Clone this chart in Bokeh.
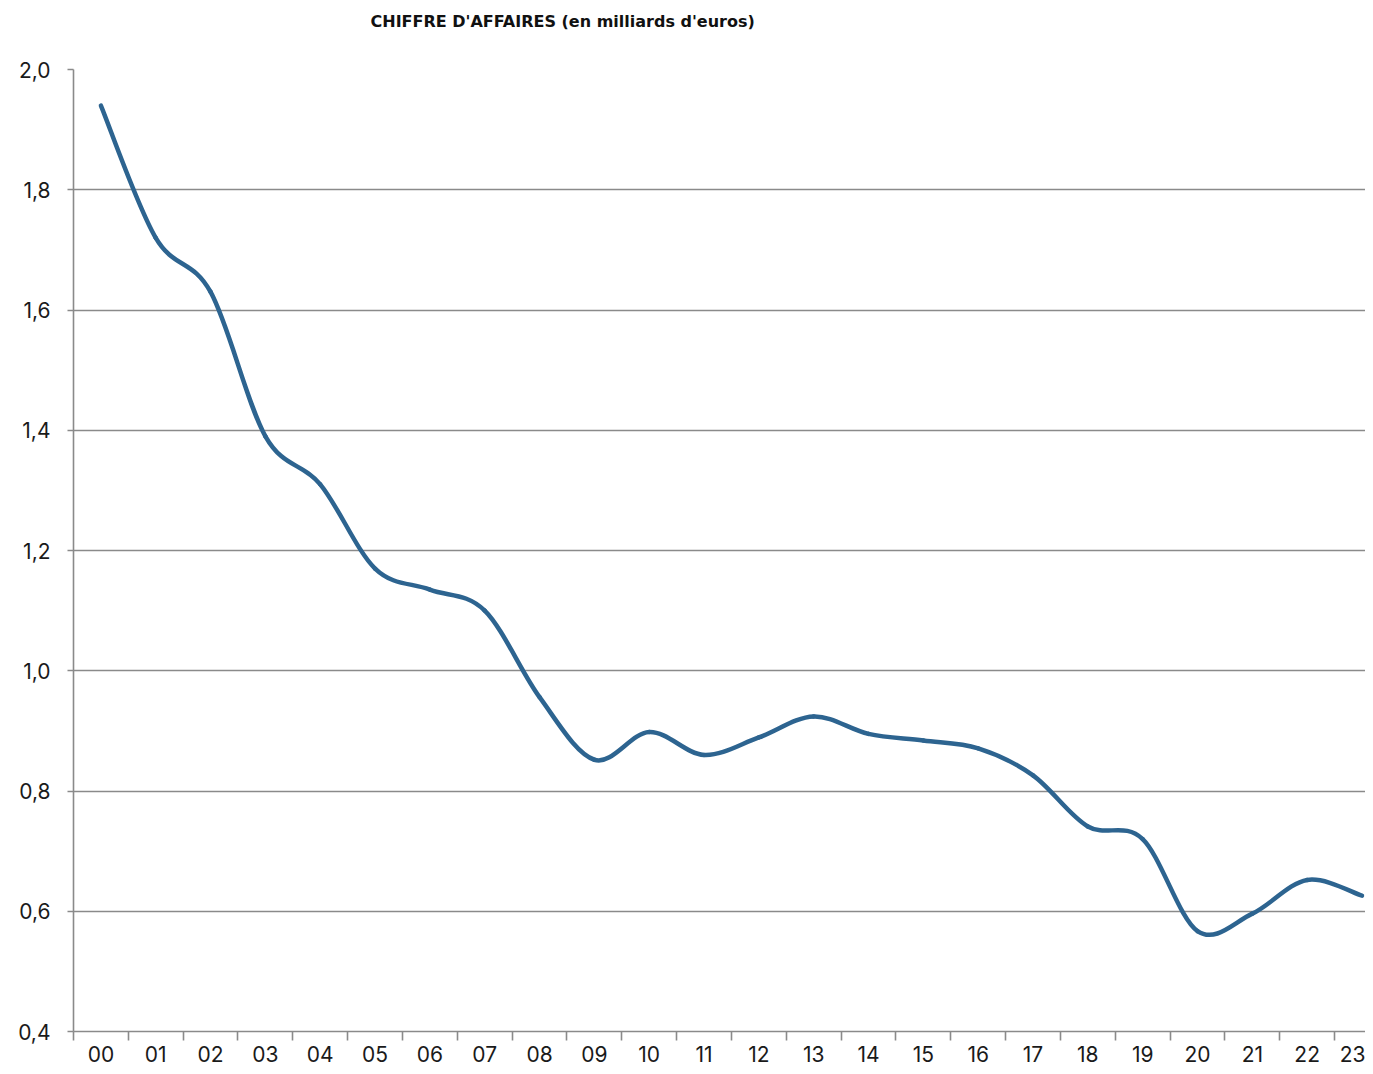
from bokeh.plotting import figure
from bokeh.layouts import column
from bokeh.models import Range1d, FixedTicker, CustomJSTickFormatter
from bokeh.core.properties import value
from bokeh.embed import file_html
from bokeh.resources import INLINE

# ---- data ----
years = ["00", "01", "02", "03", "04", "05", "06", "07", "08", "09", "10", "11",
         "12", "13", "14", "15", "16", "17", "18", "19", "20", "21", "22", "23"]
revenue = [1.94, 1.72, 1.63, 1.39, 1.31, 1.17, 1.135, 1.10, 0.956, 0.852, 0.898, 0.860,
           0.889, 0.924, 0.895, 0.884, 0.871, 0.826, 0.741, 0.720, 0.567, 0.596, 0.652, 0.626]
y_ticks = [0.4, 0.6, 0.8, 1.0, 1.2, 1.4, 1.6, 1.8, 2.0]
title_text = "CHIFFRE D'AFFAIRES (en milliards d'euros)"

FONT = "Inter"
GRID = "#8a8a8a"
LINE = "#2d6490"

n = len(years)
xs = list(range(n))

W = 1365
TITLE_H = 36
H = 1030
LEFT, TOP, BOTTOM = 73, 33, 35

# ---- title strip (its own small svg figure, no axes; frame aligned with chart frame) ----
t = figure(width=W, height=TITLE_H, output_backend="svg", toolbar_location=None,
           x_range=Range1d(LEFT, W), y_range=Range1d(0, TITLE_H),
           x_axis_type=None, y_axis_type=None,
           min_border_left=LEFT, min_border_right=0, min_border_top=0, min_border_bottom=0,
           outline_line_color=None)
t.grid.visible = False
t.text(x=[370], y=[TITLE_H - 21], text=[title_text], text_font=value("DejaVu Sans"),
       text_font_style="bold", text_font_size="16px", text_color="#111111",
       text_align="left", text_baseline="middle")

# ---- main chart ----
p = figure(width=W, height=H, output_backend="svg", toolbar_location=None,
           x_range=Range1d(-0.5, 23.064), y_range=Range1d(0.4, 2.0),
           min_border_left=LEFT, min_border_right=0, min_border_top=TOP,
           min_border_bottom=BOTTOM)
p.outline_line_color = None
p.background_fill_color = "white"
p.border_fill_color = "white"

# grid
p.xgrid.visible = False
p.ygrid.ticker = FixedTicker(ticks=y_ticks)
p.ygrid.grid_line_color = GRID
p.ygrid.grid_line_width = 1.6

# y axis
p.yaxis.ticker = FixedTicker(ticks=y_ticks)
p.yaxis.formatter = CustomJSTickFormatter(code="return tick.toFixed(1).replace('.', ',');")
p.yaxis.axis_line_color = GRID
p.yaxis.axis_line_width = 1.6
p.yaxis.major_tick_line_color = GRID
p.yaxis.major_tick_line_width = 1.6
p.yaxis.major_tick_out = 6
p.yaxis.major_tick_in = 0
p.yaxis.minor_tick_line_color = None
p.yaxis.major_label_text_font = FONT
p.yaxis.major_label_text_font_size = "21px"
p.yaxis.major_label_text_color = "#1a1a1a"
p.yaxis.major_label_standoff = 17

# x axis: labels at category centres, ticks on category boundaries
bounds = [i - 0.5 for i in range(n + 1)]
p.xaxis.ticker = FixedTicker(ticks=xs, minor_ticks=bounds)
p.xaxis.major_label_overrides = {i: years[i] for i in xs}
p.xaxis.axis_line_color = GRID
p.xaxis.axis_line_width = 1.6
p.xaxis.major_tick_line_color = None
p.xaxis.major_tick_out = 0
p.xaxis.major_tick_in = 0
p.xaxis.minor_tick_line_color = GRID
p.xaxis.minor_tick_line_width = 1.6
p.xaxis.minor_tick_out = 9
p.xaxis.minor_tick_in = 0
p.xaxis.major_label_text_font = FONT
p.xaxis.major_label_text_font_size = "21px"
p.xaxis.major_label_text_color = "#1a1a1a"
p.xaxis.major_label_standoff = 5

# smoothed line (cubic Bezier segments through the data points)
x0, y0, x1, y1, cx0, cy0, cx1, cy1 = [], [], [], [], [], [], [], []
for i in range(n - 1):
    ip = max(i - 1, 0)
    inn = min(i + 2, n - 1)
    x0.append(xs[i]); y0.append(revenue[i])
    x1.append(xs[i + 1]); y1.append(revenue[i + 1])
    cx0.append(xs[i] + (xs[i + 1] - xs[ip]) / 6.0)
    cy0.append(revenue[i] + (revenue[i + 1] - revenue[ip]) / 6.0)
    cx1.append(xs[i + 1] - (xs[inn] - xs[i]) / 6.0)
    cy1.append(revenue[i + 1] - (revenue[inn] - revenue[i]) / 6.0)

p.bezier(x0=x0, y0=y0, x1=x1, y1=y1, cx0=cx0, cy0=cy0, cx1=cx1, cy1=cy1,
         line_color=LINE, line_width=4.5, line_cap="round")

layout = column(t, p, spacing=0)
open("out.html", "w").write(file_html(layout, INLINE))
